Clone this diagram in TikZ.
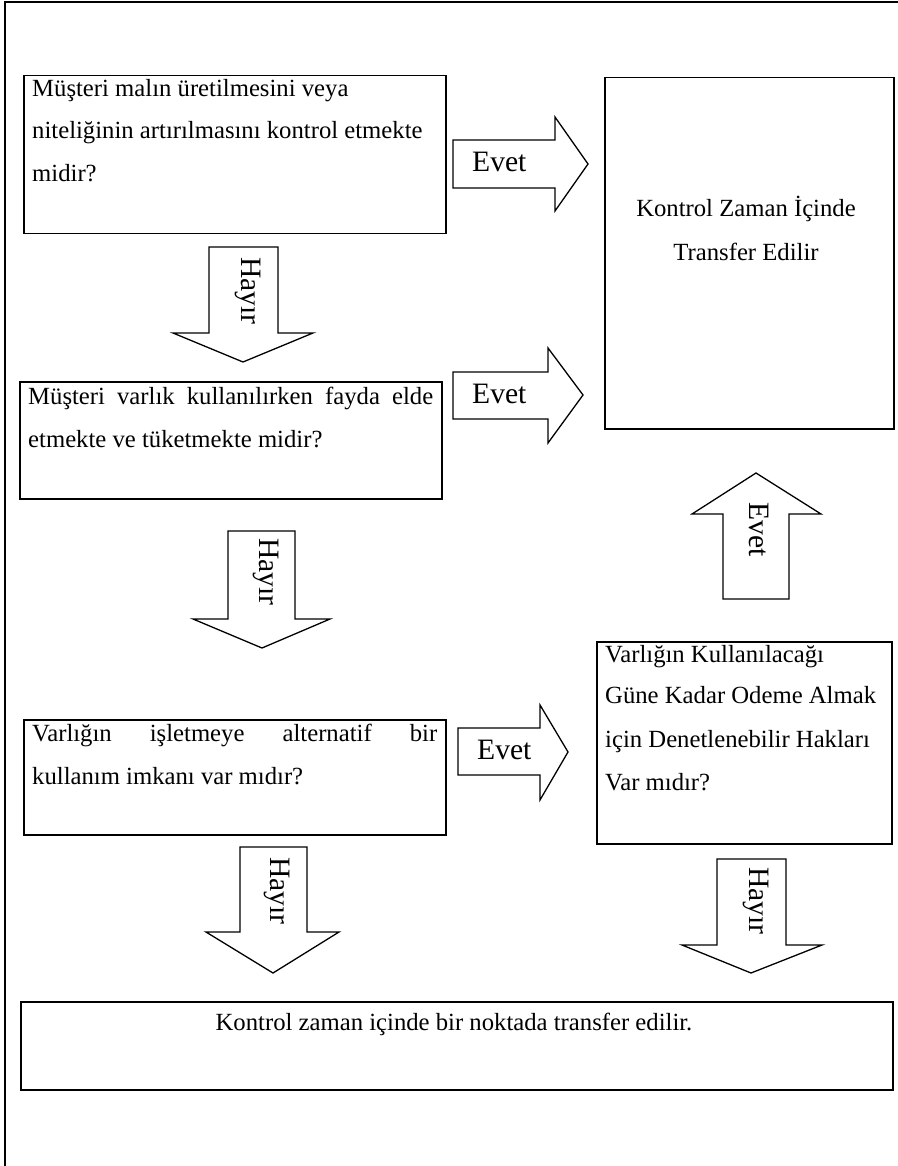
\documentclass[tikz,border=0pt]{standalone}
\usepackage{fontspec}
\setmainfont{Liberation Serif}
\tikzset{
  box/.style={draw=black, line width=1.5pt, anchor=north west, inner sep=0pt},
  barrow/.style={draw=black, line width=1.3pt, fill=white, line join=miter},
  txt/.style={anchor=base west, inner sep=0pt, font=\fontsize{24.7}{30}\selectfont},
  ctxt/.style={anchor=base, inner sep=0pt, font=\fontsize{24.7}{30}\selectfont},
  lbl/.style={inner sep=0pt, font=\fontsize{29.6}{34}\selectfont},
}
\begin{document}
\begin{tikzpicture}[x=1pt, y=-1pt]
\useasboundingbox (0,0) rectangle (897,1166);
% outer frame
\draw[line width=1.5pt] (5,1170) -- (5,2) -- (900,2);

% boxes
\node[box, minimum width=422pt, minimum height=158pt] (q1) at (23,75) {};
\node[box, minimum width=289pt, minimum height=351pt] (r1) at (604,77) {};
\node[box, minimum width=422pt, minimum height=117pt] (q2) at (19,381) {};
\node[box, minimum width=422pt, minimum height=115pt] (q3) at (23,719) {};
\node[box, minimum width=295pt, minimum height=202pt] (q4) at (596,641) {};
\node[box, minimum width=872pt, minimum height=88pt] (r2) at (20,1001) {};

% texts
\node[txt] (q1a) at (32,97) {Müşteri malın üretilmesini veya};
\node[txt] (q1b) at (32,139) {niteliğinin artırılmasını kontrol etmekte};
\node[txt] (q1c) at (32,182) {midir?};

\node[ctxt] (r1a) at (746,217) {Kontrol Zaman İçinde};
\node[ctxt] (r1b) at (746,261) {Transfer Edilir};

\node[txt] (q2a) at (28,404) {\makebox[405pt][s]{Müşteri varlık kullanılırken fayda elde}};
\node[txt] (q2b) at (28,447) {etmekte ve tüketmekte midir?};

\node[txt] (q3a) at (32,741) {\makebox[405pt][s]{Varlığın işletmeye alternatif bir}};
\node[txt] (q3b) at (32,784) {kullanım imkanı var mıdır?};

\node[txt] (q4a) at (605,662) {Varlığın Kullanılacağı};
\node[txt] (q4b) at (605,703) {Güne Kadar Odeme Almak};
\node[txt] (q4c) at (605,747) {için Denetlenebilir Hakları};
\node[txt] (q4d) at (605,790) {Var mıdır?};

\node[ctxt] (r2a) at (454,1030) {Kontrol zaman içinde bir noktada transfer edilir.};

% block arrows: Evet (right)
\draw[barrow] (453,140) -- (555,140) -- (555,117) -- (588,164) -- (555,211) -- (555,188) -- (453,188) -- cycle;
\node[lbl, anchor=base west] (e1) at (472,172) {Evet};
\draw[barrow] (453,372) -- (548,372) -- (548,348) -- (583,395) -- (548,443) -- (548,419) -- (453,419) -- cycle;
\node[lbl, anchor=base west] (e2) at (472,403) {Evet};
\draw[barrow] (458,728) -- (540,728) -- (540,705) -- (568,752) -- (540,800) -- (540,775) -- (458,775) -- cycle;
\node[lbl, anchor=base west] (e3) at (477,759) {Evet};

% Evet (up)
\draw[barrow] (723,599) -- (723,514) -- (692,514) -- (756,473) -- (821,514) -- (789,514) -- (789,599) -- cycle;
\node[lbl, rotate=-90] (e4) at (759,530) {Evet};

% Hayir (down)
\draw[barrow] (209,247) -- (278,247) -- (278,333) -- (313,333) -- (243,362) -- (173,333) -- (209,333) -- cycle;
\node[lbl, rotate=-90] (h1) at (248,291) {Hayır};
\draw[barrow] (228,531) -- (295,531) -- (295,619) -- (330,619) -- (262,648) -- (193,619) -- (228,619) -- cycle;
\node[lbl, rotate=-90] (h2) at (266,572) {Hayır};
\draw[barrow] (240,847) -- (307,847) -- (307,932) -- (339,932) -- (273,973) -- (206,932) -- (240,932) -- cycle;
\node[lbl, rotate=-90] (h3) at (277,891) {Hayır};
\draw[barrow] (717,859) -- (786,859) -- (786,945) -- (822,945) -- (751,973) -- (682,945) -- (717,945) -- cycle;
\node[lbl, rotate=-90] (h4) at (756,901) {Hayır};
\end{tikzpicture}
\end{document}
